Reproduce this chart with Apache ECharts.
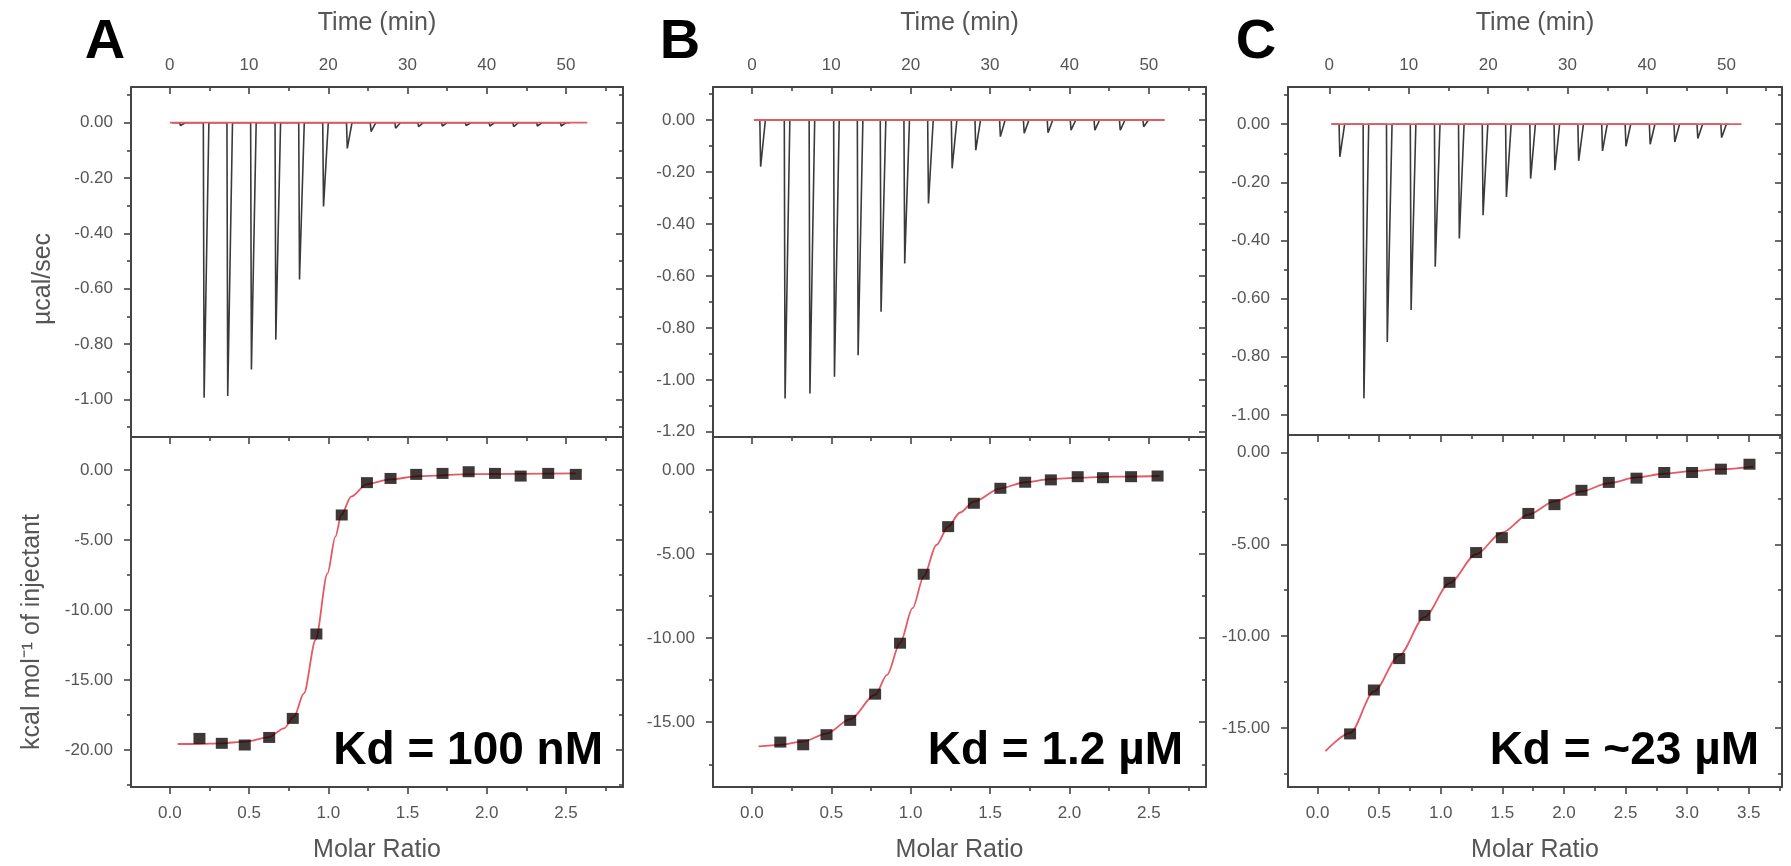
<!DOCTYPE html>
<html><head><meta charset="utf-8">
<script src="https://cdn.jsdelivr.net/npm/echarts@6/dist/echarts.min.js"></script>
<style>html,body{margin:0;padding:0;background:#fff}#chart{width:1791px;height:866px}</style>
</head><body><div id="chart"></div>
<script>
// ================= DATA =================
// tick values / labels
const timeTicks = [0, 10, 20, 30, 40, 50];
const timeMinorTicks = [5, 15, 25, 35, 45, 55];
const ratioTicksAB = [0, 0.5, 1.0, 1.5, 2.0, 2.5];
const ratioMinorAB = [0.25, 0.75, 1.25, 1.75, 2.25, 2.75];
const ratioTicksC = [0, 0.5, 1.0, 1.5, 2.0, 2.5, 3.0, 3.5];
const ratioMinorC = [0.25, 0.75, 1.25, 1.75, 2.25, 2.75, 3.25, 3.75];
const powerTicksA = [0, -0.2, -0.4, -0.6, -0.8, -1.0];
const powerMinorA = [0.1, -0.1, -0.3, -0.5, -0.7, -0.9, -1.1];
const powerTicksB = [0, -0.2, -0.4, -0.6, -0.8, -1.0, -1.2];
const powerMinorB = [0.1, -0.1, -0.3, -0.5, -0.7, -0.9, -1.1];
const powerTicksC = [0, -0.2, -0.4, -0.6, -0.8, -1.0];
const powerMinorC = [0.1, -0.1, -0.3, -0.5, -0.7, -0.9];
const heatTicksA = [0, -5, -10, -15, -20];
const heatMinorA = [-2.5, -7.5, -12.5, -17.5, -22.5];
const heatTicksBC = [0, -5, -10, -15];
const heatMinorBC = [-2.5, -7.5, -12.5, -17.5];

// panel labels
const panelLetters = ['A', 'B', 'C'];
const kdLabels = ['Kd = 100 nM', 'Kd = 1.2 µM', 'Kd = ~23 µM'];

// raw thermograms: injection time (min) and peak power (µcal/sec)
const injTimeA = [1.24, 4.23, 7.21, 10.2, 13.28, 16.27, 19.3, 22.3, 25.3, 28.4, 31.3, 34.3, 37.3, 40.3, 43.3, 46.3, 49.3];
const peakA = [-0.01, -0.994, -0.988, -0.892, -0.784, -0.567, -0.303, -0.093, -0.032, -0.02, -0.014, -0.012, -0.01, -0.012, -0.014, -0.012, -0.012];
const injTimeB = [1.0, 4.08, 7.21, 10.3, 13.28, 16.17, 19.15, 22.14, 25.12, 28.1, 31.2, 34.2, 37.2, 40.1, 43.1, 46.3, 49.25];
const peakB = [-0.18, -1.072, -1.053, -0.988, -0.905, -0.738, -0.552, -0.321, -0.186, -0.116, -0.064, -0.051, -0.049, -0.039, -0.039, -0.039, -0.026];
const injTimeC = [1.23, 4.26, 7.2, 10.2, 13.24, 16.27, 19.26, 22.2, 25.25, 28.3, 31.3, 34.3, 37.25, 40.3, 43.4, 46.3, 49.3];
const peakC = [-0.112, -0.943, -0.749, -0.639, -0.49, -0.393, -0.313, -0.25, -0.187, -0.158, -0.126, -0.092, -0.076, -0.069, -0.061, -0.049, -0.046];
// trace start / end and fitted baseline start / end (min)
const traceSpanA = [0.3, 50.5], baselineA = [0.0, 52.7];
const traceSpanB = [0.3, 50.3], baselineB = [0.25, 52.0];
const traceSpanC = [0.3, 50.3], baselineC = [0.25, 51.9];

// integrated heats: molar ratio vs kcal/mol of injectant
const ratioA = [0.187, 0.328, 0.473, 0.627, 0.776, 0.925, 1.085, 1.244, 1.393, 1.555, 1.721, 1.886, 2.052, 2.214, 2.388, 2.562];
const heatA = [-19.17, -19.52, -19.64, -19.1, -17.74, -11.71, -3.21, -0.9, -0.6, -0.31, -0.24, -0.12, -0.24, -0.43, -0.24, -0.31];
const ratioB = [0.179, 0.323, 0.47, 0.619, 0.776, 0.933, 1.082, 1.236, 1.398, 1.565, 1.721, 1.883, 2.052, 2.211, 2.388, 2.555];
const heatB = [-16.18, -16.34, -15.74, -14.89, -13.33, -10.3, -6.2, -3.37, -1.98, -1.09, -0.73, -0.59, -0.4, -0.46, -0.4, -0.36];
const ratioC = [0.264, 0.457, 0.663, 0.868, 1.071, 1.287, 1.496, 1.711, 1.923, 2.142, 2.364, 2.589, 2.814, 3.04, 3.274, 3.506];
const heatC = [-15.32, -12.93, -11.22, -8.87, -7.07, -5.45, -4.64, -3.32, -2.84, -2.06, -1.63, -1.4, -1.09, -1.09, -0.91, -0.64];

// fitted curves
const fitRatioA = [0.05, 0.174, 0.323, 0.473, 0.622, 0.721, 0.784, 0.846, 0.92, 0.995, 1.045, 1.082, 1.144, 1.244, 1.393, 1.567, 1.915, 2.562];
const fitHeatA = [-19.57, -19.57, -19.52, -19.4, -19.1, -18.45, -17.6, -15.95, -12.14, -7.38, -4.76, -3.21, -1.9, -1.0, -0.67, -0.43, -0.29, -0.24];
const fitRatioB = [0.042, 0.179, 0.323, 0.47, 0.619, 0.776, 0.851, 0.933, 1.012, 1.082, 1.162, 1.236, 1.311, 1.398, 1.565, 1.721, 1.883, 2.057, 2.281, 2.567];
const fitHeatB = [-16.44, -16.34, -16.14, -15.68, -14.81, -13.37, -12.18, -10.3, -8.22, -6.34, -4.46, -3.37, -2.53, -1.88, -1.09, -0.73, -0.55, -0.46, -0.4, -0.36];
const fitRatioC = [0.064, 0.264, 0.457, 0.663, 0.868, 1.071, 1.287, 1.496, 1.711, 1.923, 2.142, 2.364, 2.589, 2.814, 3.04, 3.274, 3.538];
const fitHeatC = [-16.26, -15.27, -13.02, -11.04, -8.96, -7.11, -5.54, -4.37, -3.38, -2.66, -2.12, -1.67, -1.36, -1.16, -1.02, -0.91, -0.77];

// ================= STYLE / LAYOUT =================
const FONT = '"Liberation Sans", Arial, Helvetica, sans-serif';
const AX = '#444';
const LAB = '#555';
const RED = '#e35a64';
const TRACE = '#3a3a3a';

const panels = [
  { left: 131, width: 492, topH: 350, botTop: 437, botH: 350,
    timeRange: [-4.9, 57.2], ratioRange: [-0.245, 2.86],
    powerRange: [-1.136, 0.129], heatRange: [-22.64, 2.36],
    powerTicks: powerTicksA, powerMinor: powerMinorA, heatTicks: heatTicksA, heatMinor: heatMinorA,
    ratioTicks: ratioTicksAB, ratioMinor: ratioMinorAB,
    inj: injTimeA, peak: peakA, span: traceSpanA, base: baselineA,
    ratio: ratioA, heat: heatA, fitR: fitRatioA, fitH: fitHeatA,
    letterX: 105, kdX: 603 },
  { left: 713, width: 493, topH: 350, botTop: 437, botH: 350,
    timeRange: [-4.9, 57.2], ratioRange: [-0.245, 2.86],
    powerRange: [-1.22, 0.127], heatRange: [-18.85, 1.96],
    powerTicks: powerTicksB, powerMinor: powerMinorB, heatTicks: heatTicksBC, heatMinor: heatMinorBC,
    ratioTicks: ratioTicksAB, ratioMinor: ratioMinorAB,
    inj: injTimeB, peak: peakB, span: traceSpanB, base: baselineB,
    ratio: ratioB, heat: heatB, fitR: fitRatioB, fitH: fitHeatB,
    letterX: 680, kdX: 1183 },
  { left: 1288, width: 494, topH: 348, botTop: 435, botH: 352,
    timeRange: [-5.2, 57.0], ratioRange: [-0.24, 3.77],
    powerRange: [-1.069, 0.128], heatRange: [-18.21, 0.95],
    powerTicks: powerTicksC, powerMinor: powerMinorC, heatTicks: heatTicksBC, heatMinor: heatMinorBC,
    ratioTicks: ratioTicksC, ratioMinor: ratioMinorC,
    inj: injTimeC, peak: peakC, span: traceSpanC, base: baselineC,
    ratio: ratioC, heat: heatC, fitR: fitRatioC, fitH: fitHeatC,
    letterX: 1256, kdX: 1759 }
];
const TOP = 87;

const grids = [], xAxes = [], yAxes = [], series = [], graphics = [];

function baseAxis(gi, range, position, showLine) {
  return {
    gridIndex: gi, type: 'value', position, min: range[0], max: range[1],
    axisLine: { show: showLine, onZero: false, lineStyle: { color: AX, width: 2 } },
    axisTick: { show: false }, axisLabel: { show: false }, splitLine: { show: false }
  };
}
function withTicks(ax, values, len, inside) {
  ax.axisTick = { show: true, customValues: values, length: len, inside, lineStyle: { color: AX, width: 1.6 } };
  return ax;
}
function withLabels(ax, values, fmt, margin) {
  ax.axisLabel = { show: true, customValues: values, formatter: fmt, margin,
    fontSize: 17, color: LAB, fontFamily: FONT };
  return ax;
}
const nameStyle = { fontSize: 25, color: LAB, fontFamily: FONT };

// build a framed box: returns indices of main x / y axes
function box(gi, cfg) {
  const xi = xAxes.length;
  // bottom x
  const xb = baseAxis(gi, cfg.xRange, 'bottom', true);
  if (cfg.bottomTicks) withTicks(xb, cfg.xMaj, 7, false);
  if (cfg.bottomLabels) {
    withLabels(xb, cfg.xMaj, cfg.xFmt, 18);
    Object.assign(xb, { name: cfg.xName, nameLocation: 'middle', nameGap: 51, nameTextStyle: nameStyle });
  }
  xAxes.push(xb);
  if (cfg.bottomTicks) xAxes.push(withTicks(baseAxis(gi, cfg.xRange, 'bottom', false), cfg.xMin, 4, false));
  // top x
  const xt = baseAxis(gi, cfg.xRange, 'top', true);
  withTicks(xt, cfg.xMaj, 7, true);
  if (cfg.topLabels) {
    withLabels(xt, cfg.xMaj, cfg.xFmt, 13);
    Object.assign(xt, { name: cfg.xName, nameLocation: 'middle', nameGap: 51, nameTextStyle: nameStyle });
  }
  xAxes.push(xt);
  xAxes.push(withTicks(baseAxis(gi, cfg.xRange, 'top', false), cfg.xMin, 4, true));
  // left y
  const yi = yAxes.length;
  const yl = baseAxis(gi, cfg.yRange, 'left', true);
  withTicks(yl, cfg.yMaj, 7, false);
  withLabels(yl, cfg.yMaj, v => v.toFixed(2), 18);
  if (cfg.yName) Object.assign(yl, { name: cfg.yName, nameLocation: 'middle', nameGap: cfg.yNameGap,
    nameTextStyle: Object.assign({ padding: cfg.yNamePad }, nameStyle) });
  yAxes.push(yl);
  yAxes.push(withTicks(baseAxis(gi, cfg.yRange, 'left', false), cfg.yMin, 4, false));
  // right y
  yAxes.push(withTicks(baseAxis(gi, cfg.yRange, 'right', true), cfg.yMaj, 7, true));
  yAxes.push(withTicks(baseAxis(gi, cfg.yRange, 'right', false), cfg.yMin, 4, true));
  return { xi, yi };
}

function thermogram(inj, peak, span) {
  const pts = [[span[0], 0]];
  inj.forEach((t, i) => { pts.push([t, 0], [t + 0.1, peak[i]], [t + 0.7, 0]); });
  pts.push([span[1], 0]);
  return pts;
}
const zip = (a, b) => a.map((v, i) => [v, b[i]]);

panels.forEach((p, k) => {
  // top: raw power
  const gTop = grids.length;
  grids.push({ left: p.left, top: TOP, width: p.width, height: p.topH });
  const a = box(gTop, {
    xRange: p.timeRange, xMaj: timeTicks, xMin: timeMinorTicks, xFmt: v => String(v), xName: 'Time (min)',
    topLabels: true, bottomLabels: false, bottomTicks: false,
    yRange: p.powerRange, yMaj: p.powerTicks, yMin: p.powerMinor,
    yName: k === 0 ? 'µcal/sec' : null, yNameGap: 75, yNamePad: [0, 34, 0, 0]
  });
  series.push({ type: 'line', xAxisIndex: a.xi, yAxisIndex: a.yi, data: thermogram(p.inj, p.peak, p.span),
    showSymbol: false, lineStyle: { color: TRACE, width: 1.6 }, z: 2, silent: true });
  series.push({ type: 'line', xAxisIndex: a.xi, yAxisIndex: a.yi, data: [[p.base[0], 0], [p.base[1], 0]],
    showSymbol: false, lineStyle: { color: RED, width: 1.8 }, z: 3, silent: true });

  // bottom: integrated heats
  const gBot = grids.length;
  grids.push({ left: p.left, top: p.botTop, width: p.width, height: p.botH });
  const b = box(gBot, {
    xRange: p.ratioRange, xMaj: p.ratioTicks, xMin: p.ratioMinor, xFmt: v => v.toFixed(1), xName: 'Molar Ratio',
    topLabels: false, bottomLabels: true, bottomTicks: true,
    yRange: p.heatRange, yMaj: p.heatTicks, yMin: p.heatMinor,
    yName: k === 0 ? 'kcal mol⁻¹ of injectant' : null, yNameGap: 86, yNamePad: [0, 40, 0, 0]
  });
  series.push({ type: 'line', xAxisIndex: b.xi, yAxisIndex: b.yi, data: zip(p.fitR, p.fitH),
    showSymbol: false, smooth: 0.3, smoothMonotone: 'x', lineStyle: { color: RED, width: 1.8 }, z: 2, silent: true });
  series.push({ type: 'scatter', xAxisIndex: b.xi, yAxisIndex: b.yi, data: zip(p.ratio, p.heat),
    symbol: 'rect', symbolSize: [12, 11], itemStyle: { color: '#100505' }, z: 3, silent: true });

  graphics.push({ type: 'text', x: p.letterX, y: 43, style: { text: panelLetters[k], fill: '#000',
    font: 'bold 56px ' + FONT, align: 'center', verticalAlign: 'middle' } });
  graphics.push({ type: 'text', x: p.kdX, y: 751, style: { text: kdLabels[k], fill: '#000',
    font: 'bold 46px ' + FONT, align: 'right', verticalAlign: 'middle' } });
});

const chart = echarts.init(document.getElementById('chart'), null, { renderer: 'canvas' });
chart.setOption({
  backgroundColor: '#fff',
  animation: false,
  grid: grids,
  xAxis: xAxes,
  yAxis: yAxes,
  series,
  graphic: graphics
});
</script></body></html>
